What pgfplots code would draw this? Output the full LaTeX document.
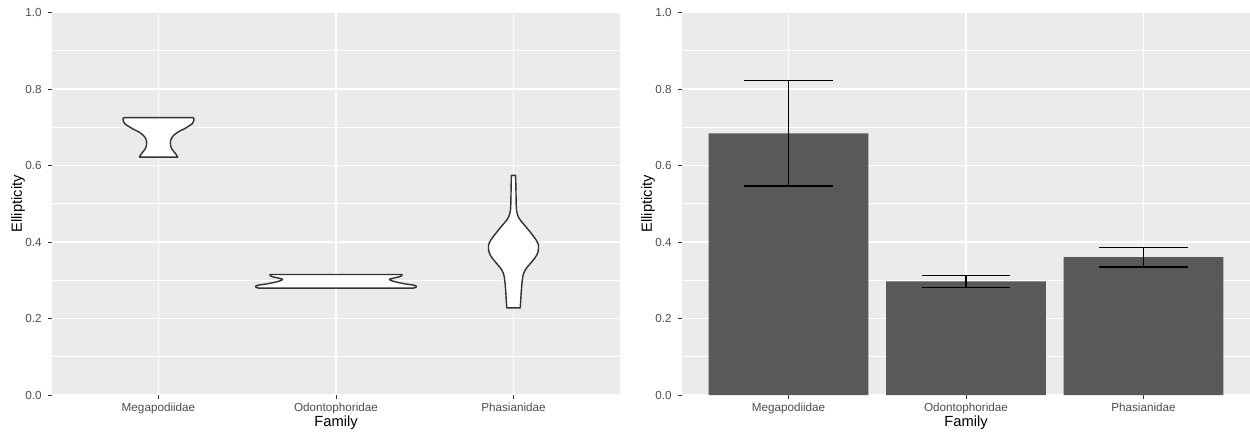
\documentclass[border=0pt]{standalone}
\usepackage{pgfplots}
\pgfplotsset{compat=1.18}
\usepackage{fontspec}
\setmainfont{Liberation Sans}

\definecolor{panelbg}{HTML}{EBEBEB}
\definecolor{barfill}{HTML}{595959}
\definecolor{ticktext}{HTML}{4D4D4D}
\definecolor{tickcol}{HTML}{333333}
\definecolor{outline}{HTML}{333333}

\pgfplotsset{
  panel/.style={
    scale only axis,
    width=568pt, height=382.5pt,
    anchor=south west,
    xmin=0.4, xmax=3.6, ymin=0, ymax=1,
    axis background/.style={fill=panelbg},
    axis x line*=bottom, axis y line*=left,
    axis line style={draw=none},
    xtick={1,2,3},
    xticklabels={Megapodiidae,Odontophoridae,Phasianidae},
    ytick={0,0.2,0.4,0.6,0.8,1},
    yticklabels={0.0,0.2,0.4,0.6,0.8,1.0},
    minor ytick={0.1,0.3,0.5,0.7,0.9},
    grid=both,
    major grid style={white, line width=1.42pt},
    minor grid style={white, line width=0.71pt},
    tick align=outside,
    major tick length=3.7pt,
    minor tick length=0pt,
    tick style={tickcol, line width=1.0pt},
    ticklabel style={font=\fontsize{11.7}{14}\selectfont, text=ticktext},
    xticklabel style={anchor=base, inner sep=0pt, yshift=-13pt},
    yticklabel style={anchor=east, inner sep=0pt, xshift=-6.5pt},
    clip=false,
  },
}

\begin{document}
\begin{tikzpicture}
\useasboundingbox (0,0) rectangle (1250pt,432pt);

% Violin plots of ellipticity per family
\begin{axis}[panel, at={(52pt,37pt)}]
\addplot[fill=white, draw=outline, line width=1.42pt, line join=round] table {
1.107 0.622
1.102 0.627
1.096 0.631
1.085 0.637
1.074 0.644
1.068 0.652
1.067 0.660
1.069 0.667
1.077 0.674
1.090 0.681
1.115 0.689
1.146 0.696
1.171 0.703
1.190 0.709
1.198 0.716
1.200 0.722
1.196 0.725
0.804 0.725
0.800 0.722
0.802 0.716
0.810 0.709
0.829 0.703
0.854 0.696
0.885 0.689
0.910 0.681
0.923 0.674
0.931 0.667
0.933 0.660
0.932 0.652
0.926 0.644
0.915 0.637
0.904 0.631
0.898 0.627
0.893 0.622
} -- cycle;
\addplot[fill=white, draw=outline, line width=1.42pt, line join=round] table {
2.434 0.2794
2.448 0.2810
2.452 0.2828
2.452 0.2848
2.445 0.2864
2.430 0.2878
2.411 0.2890
2.392 0.2903
2.376 0.2916
2.358 0.2933
2.343 0.2950
2.327 0.2968
2.315 0.2985
2.305 0.3005
2.301 0.3029
2.318 0.3050
2.338 0.3070
2.356 0.3090
2.366 0.3107
2.372 0.3130
2.372 0.3151
1.628 0.3151
1.628 0.3130
1.634 0.3107
1.644 0.3090
1.662 0.3070
1.682 0.3050
1.699 0.3029
1.695 0.3005
1.685 0.2985
1.673 0.2968
1.657 0.2950
1.642 0.2933
1.624 0.2916
1.608 0.2903
1.589 0.2890
1.570 0.2878
1.555 0.2864
1.548 0.2848
1.548 0.2828
1.552 0.2810
1.566 0.2794
} -- cycle;
\addplot[fill=white, draw=outline, line width=1.42pt, line join=round] table {
3.038 0.228
3.041 0.250
3.043 0.266
3.047 0.290
3.052 0.309
3.057 0.318
3.065 0.326
3.075 0.333
3.088 0.340
3.106 0.350
3.120 0.358
3.131 0.366
3.138 0.374
3.141 0.382
3.141 0.390
3.137 0.397
3.128 0.405
3.111 0.416
3.089 0.429
3.064 0.443
3.040 0.456
3.028 0.465
3.022 0.472
3.017 0.483
3.015 0.500
3.014 0.530
3.012 0.574
2.988 0.574
2.986 0.530
2.985 0.500
2.983 0.483
2.978 0.472
2.972 0.465
2.960 0.456
2.936 0.443
2.911 0.429
2.889 0.416
2.872 0.405
2.863 0.397
2.859 0.390
2.859 0.382
2.862 0.374
2.869 0.366
2.880 0.358
2.894 0.350
2.912 0.340
2.925 0.333
2.935 0.326
2.943 0.318
2.948 0.309
2.953 0.290
2.957 0.266
2.959 0.250
2.962 0.228
} -- cycle;
\end{axis}

% Mean ellipticity per family with error bars
\begin{axis}[panel, at={(682pt,37pt)}]
\addplot[ybar, bar width=0.9, fill=barfill, draw=none,
  error bars/.cd, y dir=both, y explicit,
  error bar style={black, line width=1.42pt},
  error mark=|,
  error mark options={black, line width=1.42pt, mark size=44.4pt}]
  table[x=x, y=y, y error=e] {
x y e
1 0.684 0.138
2 0.297 0.0153
3 0.3605 0.0255
};
\end{axis}

% Axis titles
\node[rotate=90, font=\fontsize{14.7}{17}\selectfont] at (18pt,228.25pt) {Ellipticity};
\node[rotate=90, font=\fontsize{14.7}{17}\selectfont] at (648pt,228.25pt) {Ellipticity};
\node[anchor=base, font=\fontsize{14.7}{17}\selectfont] at (336pt,6pt) {Family};
\node[anchor=base, font=\fontsize{14.7}{17}\selectfont] at (966pt,6pt) {Family};
\end{tikzpicture}
\end{document}
